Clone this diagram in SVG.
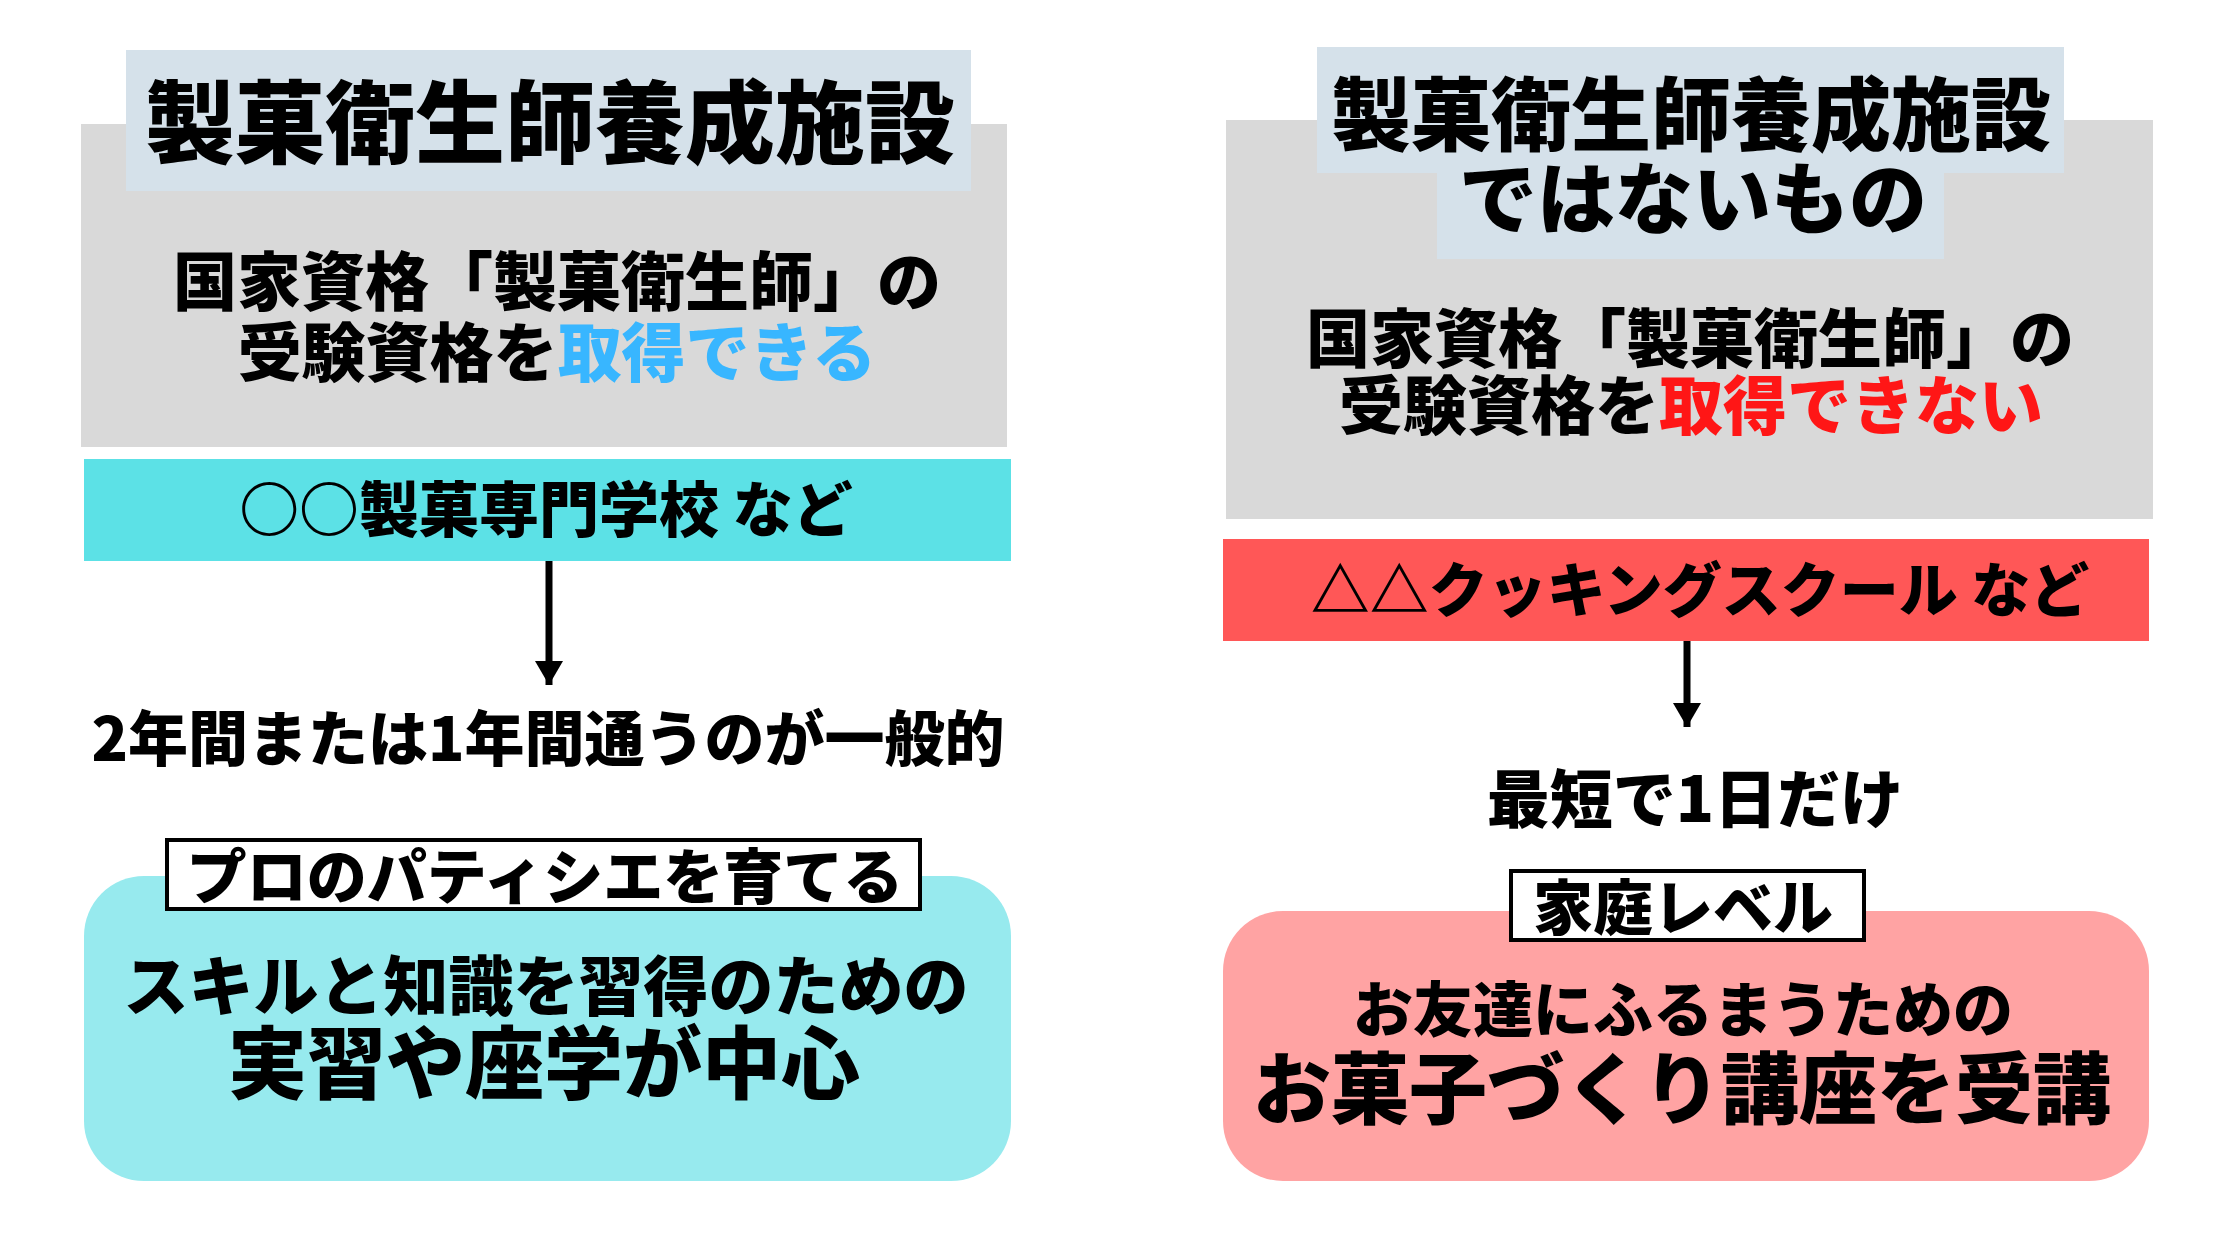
<svg xmlns="http://www.w3.org/2000/svg" width="2240" height="1260" viewBox="0 0 2240 1260">
<style>
text{font-family:"Noto Sans CJK JP","Noto Sans CJK SC",sans-serif;font-weight:900;fill:#000;text-anchor:middle;dominant-baseline:central}
.gray{fill:#d9d9d9}
.ttl{fill:#d5e1ea}
.lbl{fill:#fff;stroke:#000;stroke-width:4}
.blue{fill:#38b6ff}
.red{fill:#ff1616}
</style>
<defs>
<marker id="ah" viewBox="0 0 24 28" refX="24" refY="14" markerWidth="24" markerHeight="28" orient="auto" markerUnits="userSpaceOnUse">
<path d="M0,0 L24,14 L0,28 Z" fill="#000"/>
</marker>
</defs>
<rect width="2240" height="1260" fill="#fff"/>
<g id="left-header">
<rect class="gray" x="81" y="124" width="926" height="323"/>
<rect class="ttl" x="126" y="50" width="845" height="141"/>
<text x="550" y="117" font-size="90">製菓衛生師養成施設</text>
<text font-size="64"><tspan x="557" y="277">国家資格「製菓衛生師」の</tspan><tspan x="557" y="348">受験資格を<tspan class="blue">取得できる</tspan></tspan></text>
</g>
<g id="left-school">
<rect x="84" y="459" width="927" height="102" fill="#5ce1e6"/>
<text x="546" y="505" font-size="60">○○製菓専門学校 など</text>
</g>
<g id="left-duration">
<text x="548" y="734" font-size="60">2年間または1年間通うのが一般的</text>
</g>
<g id="left-detail">
<rect x="84" y="876" width="927" height="305" rx="60" ry="60" fill="#97eaee"/>
<rect class="lbl" x="167" y="840" width="753" height="69"/>
<text x="545" y="872" font-size="60">プロのパティシエを育てる</text>
<text><tspan x="546" y="982" font-size="65">スキルと知識を習得のための</tspan><tspan x="544" y="1058" font-size="79">実習や座学が中心</tspan></text>
</g>
<g id="right-header">
<rect class="gray" x="1226" y="120" width="927" height="399"/>
<rect class="ttl" x="1317" y="47" width="747" height="126"/>
<rect class="ttl" x="1437" y="172" width="507" height="87"/>
<text><tspan x="1691" y="109" font-size="80">製菓衛生師養成施設</tspan><tspan x="1693" y="194" font-size="78">ではないもの</tspan></text>
<text font-size="64"><tspan x="1690" y="334">国家資格「製菓衛生師」の</tspan><tspan x="1691" y="401">受験資格を<tspan class="red">取得できない</tspan></tspan></text>
</g>
<g id="right-school">
<rect x="1223" y="539" width="926" height="102" fill="#ff5757"/>
<text x="1700" y="586" font-size="59">△△クッキングスクール など</text>
</g>
<g id="right-duration">
<text x="1695" y="794" font-size="63">最短で1日だけ</text>
</g>
<g id="right-detail">
<rect x="1223" y="911" width="926" height="270" rx="60" ry="60" fill="#ffa3a3"/>
<rect class="lbl" x="1511" y="871" width="353" height="69"/>
<text x="1683" y="903" font-size="60">家庭レベル</text>
<text><tspan x="1683" y="1005" font-size="60">お友達にふるまうための</tspan><tspan x="1682" y="1084" font-size="78">お菓子づくり講座を受講</tspan></text>
</g>
<g id="connectors" stroke="#000" stroke-width="7" fill="none">
<line x1="549" y1="561" x2="549" y2="685" marker-end="url(#ah)"/>
<line x1="1687" y1="641" x2="1687" y2="727" marker-end="url(#ah)"/>
</g>
</svg>
